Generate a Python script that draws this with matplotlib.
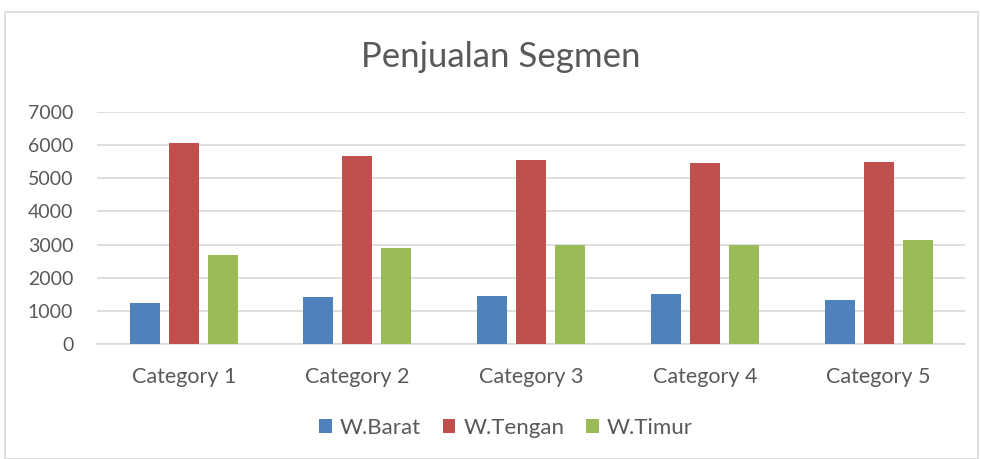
import matplotlib
matplotlib.use("Agg")
import matplotlib.pyplot as plt
import numpy as np
from matplotlib.patches import Rectangle

categories = ["Category 1", "Category 2", "Category 3", "Category 4", "Category 5"]
series_names = ["W.Barat", "W.Tengan", "W.Timur"]
w_barat = [1230, 1430, 1450, 1510, 1340]
w_tengan = [6050, 5670, 5550, 5450, 5490]
w_timur = [2700, 2890, 2990, 3000, 3150]
yticks = [0, 1000, 2000, 3000, 4000, 5000, 6000, 7000]
colors = ["#4F81BD", "#C0504D", "#9BBB59"]

plt.rcParams['font.family'] = ['Lato', 'DejaVu Sans']
W, H = 981, 459
fig = plt.figure(figsize=(W/100, H/100), dpi=100)
ax = fig.add_axes([96.9/W, 1-344/H, 868.5/W, 232/H])

x = np.arange(len(categories))
bw = 0.173
step = 0.2245
for i, (vals, name) in enumerate(zip([w_barat, w_tengan, w_timur], series_names)):
    ax.bar(x + (i-1)*step, vals, width=bw, color=colors[i], label=name, zorder=3)

ax.set_xlim(-0.5, len(categories)-0.5)
ax.set_ylim(0, 7000)
ax.set_yticks(yticks)
ax.set_yticklabels([str(v) for v in yticks])
ax.set_xticks(x)
ax.set_xticklabels(categories)
ax.grid(axis='y', color='#D9D9D9', linewidth=1.2, zorder=0)
for s in ['top', 'right', 'left']:
    ax.spines[s].set_visible(False)
ax.spines['bottom'].set_color('#D9D9D9')
ax.spines['bottom'].set_linewidth(1.2)
ax.tick_params(axis='both', length=0, colors='#595959')
ax.tick_params(axis='x', pad=16.5, labelsize=15.5)
ax.tick_params(axis='y', pad=17, labelsize=14)

fig.text(501/W, 1-57/H, "Penjualan Segmen", ha='center', va='center', fontsize=25, color='#595959')

leg = fig.legend(loc='center', bbox_to_anchor=(506/W, 1-428/H), ncol=3, frameon=False,
                 fontsize=16, handlelength=0.55, handleheight=0.55, handletextpad=0.36,
                 columnspacing=1.0)
for t in leg.get_texts():
    t.set_color('#595959')

fig.patches.append(Rectangle((4.5/W, 0), (978-4.5)/W, 1-12.3/H, transform=fig.transFigure,
                             fill=False, edgecolor='#D9D9D9', linewidth=1.2))

fig.savefig("out.png", dpi=100, facecolor='white')
